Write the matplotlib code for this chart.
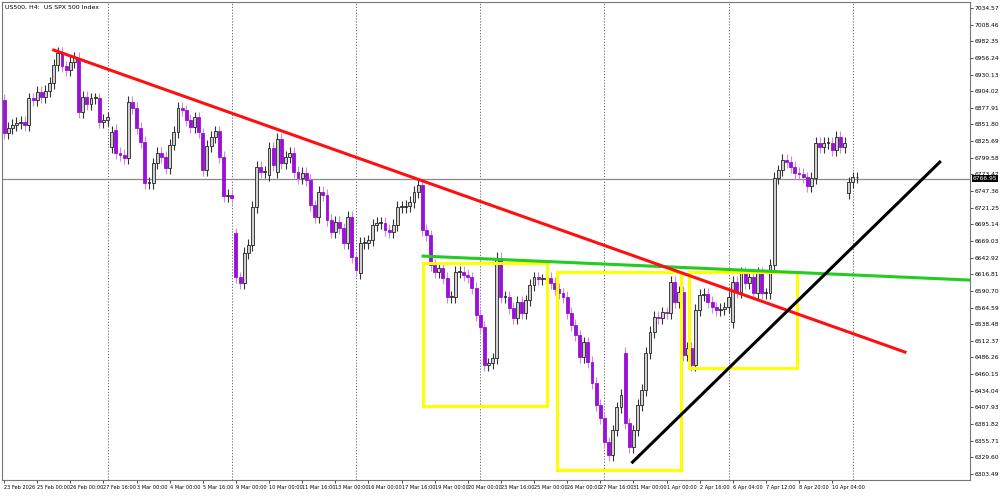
import matplotlib
matplotlib.use("Agg")
import matplotlib.pyplot as plt
from matplotlib.patches import Rectangle

closes = [6838,6846,6851,6854,6856,6851,6893,6890,6903,6895,6904,6917,6945,6964,6943,6937,6950,6956,6871,6895,
6884,6893,6893,6856,6859,6863,6840,6807,6804,6799,6887,6878,6846,6824,6760,6760,6791,6807,6801,6783,
6820,6840,6878,6874,6859,6848,6863,6840,6780,6818,6832,6841,6801,6739,6741,6736,6612,6603,6650,6663,
6722,6785,6777,6777,6815,6788,6829,6791,6801,6807,6777,6768,6776,6765,6725,6707,6746,6741,6702,6683,
6699,6689,6666,6707,6644,6623,6666,6666,6670,6694,6697,6697,6686,6683,6694,6722,6722,6724,6730,6746,
6757,6686,6678,6631,6620,6627,6611,6581,6581,6620,6620,6616,6612,6595,6553,6534,6474,6477,6485,6642,
6581,6581,6564,6548,6573,6556,6576,6600,6612,6609,6609,6611,6603,6594,6587,6581,6556,6537,6521,6487,
6510,6479,6446,6412,6391,6353,6333,6372,6408,6427,6383,6346,6372,6412,6435,6493,6526,6550,6548,6557,
6556,6605,6573,6589,6490,6501,6474,6561,6584,6586,6573,6565,6561,6562,6565,6581,6605,6589,6619,6603,
6612,6587,6619,6587,6587,6631,6768,6780,6796,6793,6785,6776,6774,6769,6755,6768,6823,6816,6823,6823,
6812,6832,6816,6823,6761,6769,6769]
# opens that differ from previous close (gaps)
gap_opens = {26: 6816, 27: 6843, 48: 6838, 56: 6681, 64: 6772, 66: 6777, 86: 6619, 150: 6493, 176: 6542, 204: 6744}
first_open = 6890

xlabels = ["23 Feb 2026","25 Feb 00:00","26 Feb 00:00","27 Feb 16:00","3 Mar 00:00","4 Mar 00:00","5 Mar 16:00",
"9 Mar 00:00","10 Mar 00:00","11 Mar 16:00","13 Mar 00:00","16 Mar 00:00","17 Mar 16:00","19 Mar 00:00",
"20 Mar 00:00","23 Mar 16:00","25 Mar 00:00","26 Mar 00:00","27 Mar 16:00","31 Mar 00:00","1 Apr 00:00",
"2 Apr 16:00","6 Apr 04:00","7 Apr 12:00","8 Apr 20:00","10 Apr 04:00"]
ytick_vals = [7034.57 - 26.11*k for k in range(29)]
last_price = 6766.95

red_line = [(12.0, 6968.6), (217.6, 6494.7)]
green_line = [(101.2, 6645.3), (233.3, 6607.7)]
black_line = [(151.8, 6322.1), (226.0, 6792.8)]
boxes = [(101.2, 131.1, 6410, 6634), (133.5, 163.4, 6310, 6620), (165.5, 191.6, 6470, 6620)]

fig = plt.figure(figsize=(10, 5.01), dpi=100)
ax = fig.add_axes([0.002, 21/501, 0.968, 478/501])
n = len(closes)
prev = first_open
bull_c, bear_c, bear_w = "#cfcfcf", "#9a10d8", "#c98ae8"
for i, c in enumerate(closes):
    o = gap_opens.get(i, prev)
    hi, lo = max(o, c) + 9, min(o, c) - 9
    bull = c >= o
    ax.vlines(i, lo, hi, color="#333333" if bull else bear_w, lw=0.8, zorder=2)
    h = max(abs(c - o), 1.2)
    ax.add_patch(Rectangle((i - 0.35, min(o, c)), 0.7, h, facecolor=bull_c if bull else bear_c,
                           edgecolor="#222222" if bull else bear_c, lw=0.6, zorder=3))
    prev = c

for x in range(25, n + 30, 30):
    ax.axvline(x, color="#555555", ls=(0, (1.5, 2)), lw=0.6, zorder=1)
ax.axhline(last_price, color="#888888", lw=0.9, zorder=1)

for (x0, x1, y0, y1) in boxes:
    ax.add_patch(Rectangle((x0, y0), x1 - x0, y1 - y0, fill=False, edgecolor="#ffff00", lw=2.2, zorder=4))
for ln, col in [(green_line, "#22cc22"), (red_line, "#ff1010"), (black_line, "black")]:
    ax.plot([ln[0][0], ln[1][0]], [ln[0][1], ln[1][1]], color=col, lw=2.2, zorder=5)

ax.set_xlim(-0.5, 233.3)
ax.set_ylim(6294, 7044)
ax.yaxis.tick_right()
ax.set_yticks(ytick_vals)
ax.set_yticklabels([f"{v:.2f}" for v in ytick_vals], fontsize=4.3)
ax.set_xticks([8*k for k in range(len(xlabels))])
ax.set_xticklabels(xlabels, fontsize=3.6, ha="left", family=["Liberation Sans Narrow", "DejaVu Sans"])
ax.tick_params(length=2, width=0.5, pad=1.5)
for s in ax.spines.values():
    s.set_color("#777777"); s.set_linewidth(0.8)
ax.text(0.003, 0.995, "US500, H4:  US SPX 500 Index", transform=ax.transAxes, fontsize=4.5, va="top", ha="left")
ax.text(1.003, (last_price - 6294) / 750, f"{last_price:.2f}", transform=ax.transAxes, fontsize=4.3,
        va="center", ha="left", color="white", bbox=dict(facecolor="black", edgecolor="none", pad=0.5))
fig.savefig("out.png", dpi=100)
